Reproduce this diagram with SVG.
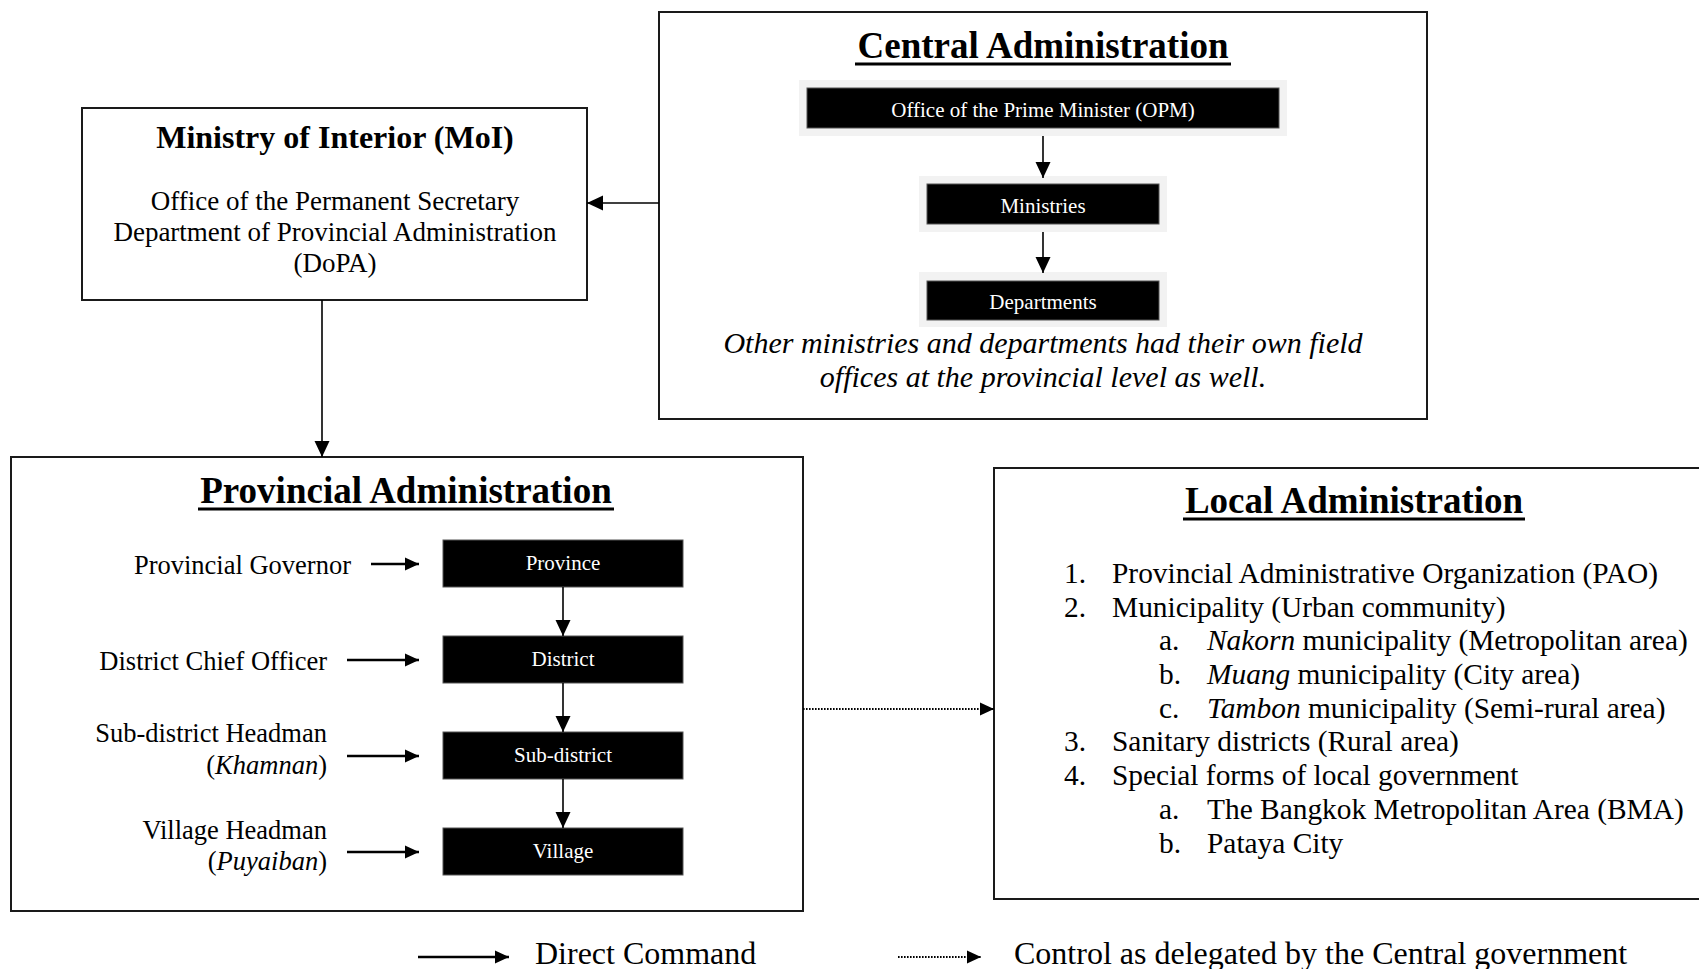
<svg xmlns="http://www.w3.org/2000/svg" width="1699" height="969" viewBox="0 0 1699 969">
<defs>
<style>
.box{fill:#fff;stroke:#1a1a1a;stroke-width:2}
.blk{fill:#000;stroke:#555;stroke-width:1}
.grey{fill:#f2f2f2}
.t{font-family:"Liberation Serif","Times New Roman",serif;fill:#000}
.title{font-size:37px;font-weight:bold;text-anchor:middle}
.ul{stroke:#000;stroke-width:3}
.wt{font-family:"Liberation Serif","Times New Roman",serif;fill:#fff;font-size:21px;text-anchor:middle}
.conn{stroke:#000;stroke-width:1.6;fill:none}
.thick{stroke:#000;stroke-width:2.4;fill:none}
.dot{stroke:#000;stroke-width:2.2;fill:none;stroke-dasharray:1.6 1.4}
</style>
<marker id="ah" markerUnits="userSpaceOnUse" markerWidth="16" markerHeight="16" refX="16" refY="8" orient="auto">
<path d="M0,0.5 L16,8 L0,15.5 z" fill="#000"/>
</marker>
<marker id="ahs" markerUnits="userSpaceOnUse" markerWidth="14" markerHeight="14" refX="14" refY="7" orient="auto">
<path d="M0,0.5 L14,7 L0,13.5 z" fill="#000"/>
</marker>
</defs>
<rect width="1699" height="969" fill="#fff"/>

<g id="central">
<rect class="box" x="659" y="12" width="768" height="407"/>
<text class="t title" x="1043" y="58">Central Administration</text>
<line class="ul" x1="855" y1="64" x2="1231" y2="64"/>
<g id="opm">
<rect class="grey" x="799" y="80" width="488" height="56"/>
<rect class="blk" x="807" y="88" width="472" height="40"/>
<text class="wt" x="1043" y="117">Office of the Prime Minister (OPM)</text>
</g>
<g id="ministries">
<rect class="grey" x="919" y="176" width="248" height="56"/>
<rect class="blk" x="927" y="184" width="232" height="40"/>
<text class="wt" x="1043" y="213">Ministries</text>
</g>
<g id="departments">
<rect class="grey" x="919" y="272" width="248" height="55"/>
<rect class="blk" x="927" y="281" width="232" height="39"/>
<text class="wt" x="1043" y="309">Departments</text>
</g>
<text class="t" x="1043" y="353" font-size="30" font-style="italic" text-anchor="middle">Other ministries and departments had their own field</text>
<text class="t" x="1043" y="387" font-size="30" font-style="italic" text-anchor="middle">offices at the provincial level as well.</text>
</g>

<g id="moi">
<rect class="box" x="82" y="108" width="505" height="192"/>
<text class="t" x="335" y="148" font-size="32" font-weight="bold" text-anchor="middle">Ministry of Interior (MoI)</text>
<text class="t" x="335" y="210" font-size="27" text-anchor="middle">Office of the Permanent Secretary</text>
<text class="t" x="335" y="241" font-size="27" text-anchor="middle">Department of Provincial Administration</text>
<text class="t" x="335" y="272" font-size="27" text-anchor="middle">(DoPA)</text>
</g>

<g id="provincial">
<rect class="box" x="11" y="457" width="792" height="454"/>
<text class="t title" x="406" y="503">Provincial Administration</text>
<line class="ul" x1="198" y1="509" x2="614" y2="509"/>
<g id="province"><rect class="blk" x="443" y="540" width="240" height="47"/><text class="wt" x="563" y="570">Province</text></g>
<g id="district"><rect class="blk" x="443" y="636" width="240" height="47"/><text class="wt" x="563" y="666">District</text></g>
<g id="subdistrict"><rect class="blk" x="443" y="732" width="240" height="47"/><text class="wt" x="563" y="762">Sub-district</text></g>
<g id="village"><rect class="blk" x="443" y="828" width="240" height="47"/><text class="wt" x="563" y="858">Village</text></g>
<g id="governor"><text class="t" x="351" y="574" font-size="26.5" text-anchor="end">Provincial Governor</text></g>
<g id="chief"><text class="t" x="327" y="670" font-size="26.5" text-anchor="end">District Chief Officer</text></g>
<g id="khamnan"><text class="t" x="327" y="742" font-size="26.5" text-anchor="end">Sub-district Headman</text>
<text class="t" x="327" y="774" font-size="26.5" text-anchor="end">(<tspan font-style="italic">Khamnan</tspan>)</text></g>
<g id="puyaiban"><text class="t" x="327" y="839" font-size="26.5" text-anchor="end">Village Headman</text>
<text class="t" x="327" y="870" font-size="26.5" text-anchor="end">(<tspan font-style="italic">Puyaiban</tspan>)</text></g>
</g>

<g id="local">
<rect class="box" x="994" y="468" width="720" height="431"/>
<text class="t title" x="1354" y="513">Local Administration</text>
<line class="ul" x1="1183" y1="519" x2="1525" y2="519"/>
<g class="t" font-size="29.4">
<text x="1064" y="583">1.</text><text x="1112" y="583">Provincial Administrative Organization (PAO)</text>
<text x="1064" y="617">2.</text><text x="1112" y="617">Municipality (Urban community)</text>
<text x="1159" y="650">a.</text><text x="1207" y="650"><tspan font-style="italic">Nakorn</tspan> municipality (Metropolitan area)</text>
<text x="1159" y="684">b.</text><text x="1207" y="684"><tspan font-style="italic">Muang</tspan> municipality (City area)</text>
<text x="1159" y="718">c.</text><text x="1207" y="718"><tspan font-style="italic">Tambon</tspan> municipality (Semi-rural area)</text>
<text x="1064" y="751">3.</text><text x="1112" y="751">Sanitary districts (Rural area)</text>
<text x="1064" y="785">4.</text><text x="1112" y="785">Special forms of local government</text>
<text x="1159" y="819">a.</text><text x="1207" y="819">The Bangkok Metropolitan Area (BMA)</text>
<text x="1159" y="853">b.</text><text x="1207" y="853">Pataya City</text>
</g>
</g>

<g id="connectors">
<line class="conn" x1="659" y1="203" x2="587" y2="203" marker-end="url(#ah)"/>
<line class="conn" x1="322" y1="300" x2="322" y2="457" marker-end="url(#ah)"/>
<line class="conn" x1="1043" y1="136" x2="1043" y2="178" marker-end="url(#ah)"/>
<line class="conn" x1="1043" y1="232" x2="1043" y2="273" marker-end="url(#ah)"/>
<line class="conn" x1="563" y1="587" x2="563" y2="636" marker-end="url(#ah)"/>
<line class="conn" x1="563" y1="683" x2="563" y2="732" marker-end="url(#ah)"/>
<line class="conn" x1="563" y1="779" x2="563" y2="828" marker-end="url(#ah)"/>
<line class="thick" x1="371" y1="564" x2="419" y2="564" marker-end="url(#ahs)"/>
<line class="thick" x1="347" y1="660" x2="419" y2="660" marker-end="url(#ahs)"/>
<line class="thick" x1="347" y1="756" x2="419" y2="756" marker-end="url(#ahs)"/>
<line class="thick" x1="347" y1="852" x2="419" y2="852" marker-end="url(#ahs)"/>
<line class="dot" x1="803" y1="709" x2="994" y2="709" marker-end="url(#ahs)"/>
</g>

<g id="legend">
<line class="thick" x1="418" y1="957" x2="509" y2="957" marker-end="url(#ahs)"/>
<text class="t" x="535" y="964" font-size="32">Direct Command</text>
<line class="dot" x1="898" y1="957" x2="981" y2="957" marker-end="url(#ahs)"/>
<text class="t" x="1014" y="964" font-size="32">Control as delegated by the Central government</text>
</g>
</svg>
